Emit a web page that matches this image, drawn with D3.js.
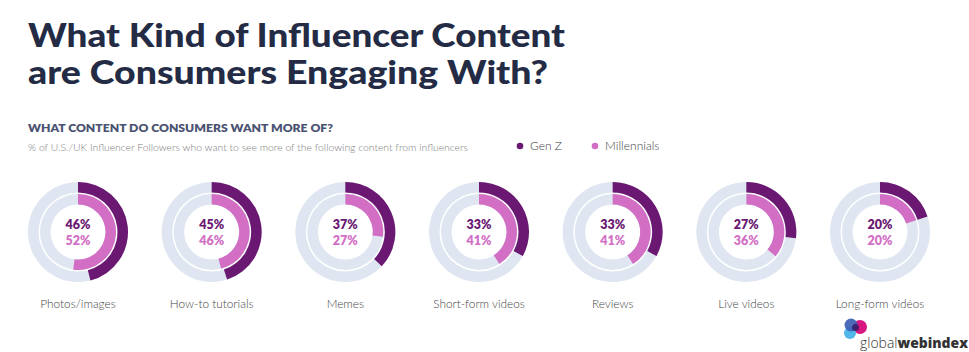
<!DOCTYPE html>
<html><head><meta charset="utf-8">
<script src="https://cdn.jsdelivr.net/npm/d3@7/dist/d3.min.js"></script>
<style>body{margin:0;background:#fff;}svg{display:block;}</style>
</head><body>
<svg id="chart" width="969" height="352"></svg>
<script>
const categories = ["Photos/images","How-to tutorials","Memes","Short-form videos","Reviews","Live videos","Long-form vidéos"];
const genZ = [46,45,37,33,33,27,20];
const millennials = [52,46,27,41,41,36,20];
const seriesNames = ["Gen Z","Millennials"];
const colors = {genZ:"#6a1872", mill:"#d26fc5", track:"#dfe6f1", title:"#232b45"};

const svg = d3.select("#chart");
const font = "Lato, 'Open Sans', sans-serif";

function fitWidth(sel, w){ sel.attr("textLength", w).attr("lengthAdjust","spacingAndGlyphs"); }

// Title
svg.append("text").attr("x",28).attr("y",47).text("What Kind of Influencer Content")
  .attr("font-family",font).attr("font-weight",900).attr("font-size",33).attr("fill",colors.title)
  .call(s=>fitWidth(s,537));
svg.append("text").attr("x",28).attr("y",84).text("are Consumers Engaging With?")
  .attr("font-family",font).attr("font-weight",900).attr("font-size",33).attr("fill",colors.title)
  .call(s=>fitWidth(s,520));

svg.append("text").attr("x",28).attr("y",132).text("WHAT CONTENT DO CONSUMERS WANT MORE OF?")
  .attr("font-family",font).attr("font-weight",800).attr("font-size",11.5).attr("fill","#4a5272")
  .call(s=>fitWidth(s,305));
svg.append("text").attr("x",28).attr("y",151).text("% of U.S./UK Influencer Followers who want to see more of the following content from influencers")
  .attr("font-family",font).attr("font-weight",300).attr("font-size",10).attr("fill","#7d7d7d")
  .call(s=>fitWidth(s,440));

// Legend
const legend = svg.append("g");
[{n:seriesNames[0],c:colors.genZ,x:520},{n:seriesNames[1],c:colors.mill,x:595}].forEach(d=>{
  legend.append("circle").attr("cx",d.x).attr("cy",146).attr("r",3.3).attr("fill",d.c);
  legend.append("text").attr("x",d.x+10).attr("y",150).text(d.n)
    .attr("font-family",font).attr("font-weight",300).attr("font-size",12).attr("fill","#444");
});

// Donuts
const x = d3.scalePoint().domain(categories).range([78,880]);
const cy = 232;
const angle = d3.scaleLinear().domain([0,100]).range([0,2*Math.PI]);
const outerArc = d3.arc().innerRadius(39.5).outerRadius(50);
const innerArc = d3.arc().innerRadius(27.5).outerRadius(38);

const g = svg.selectAll("g.donut").data(categories).join("g").attr("class","donut")
  .attr("transform",d=>`translate(${x(d)},${cy})`);
g.append("path").attr("d",outerArc({startAngle:0,endAngle:2*Math.PI})).attr("fill",colors.track);
g.append("path").attr("d",innerArc({startAngle:0,endAngle:2*Math.PI})).attr("fill",colors.track);
g.append("path").attr("d",(d,i)=>outerArc({startAngle:0,endAngle:angle(genZ[i])})).attr("fill",colors.genZ);
g.append("path").attr("d",(d,i)=>innerArc({startAngle:0,endAngle:angle(millennials[i])})).attr("fill",colors.mill);
g.append("text").attr("text-anchor","middle").attr("y",-3).text((d,i)=>genZ[i]+"%")
  .attr("font-family",font).attr("font-weight",800).attr("font-size",12.5).attr("fill",colors.genZ);
g.append("text").attr("text-anchor","middle").attr("y",13).text((d,i)=>millennials[i]+"%")
  .attr("font-family",font).attr("font-weight",800).attr("font-size",12.5).attr("fill",colors.mill);
g.append("text").attr("text-anchor","middle").attr("y",76).text(d=>d)
  .attr("font-family",font).attr("font-weight",300).attr("font-size",11.8).attr("fill","#444");

// Logo
const logo = svg.append("g");
logo.append("circle").attr("cx",860).attr("cy",327).attr("r",7).attr("fill","#d5177f");
logo.append("circle").attr("cx",850).attr("cy",333).attr("r",6).attr("fill","#48b2e8").attr("opacity",0.95);
logo.append("circle").attr("cx",851).attr("cy",325).attr("r",6.5).attr("fill","#3d5fb5").attr("opacity",0.92);
logo.append("circle").attr("cx",855.5).attr("cy",327.5).attr("r",3.5).attr("fill","#3a1a66").attr("opacity",0.85);
const lt = logo.append("text").attr("x",860).attr("y",348).attr("font-family","'Open Sans', sans-serif").attr("font-size",14).attr("fill","#333")
  .attr("textLength",108).attr("lengthAdjust","spacingAndGlyphs");
lt.append("tspan").text("global").attr("font-weight",300);
lt.append("tspan").text("webindex").attr("font-weight",800);
</script>
</body></html>
